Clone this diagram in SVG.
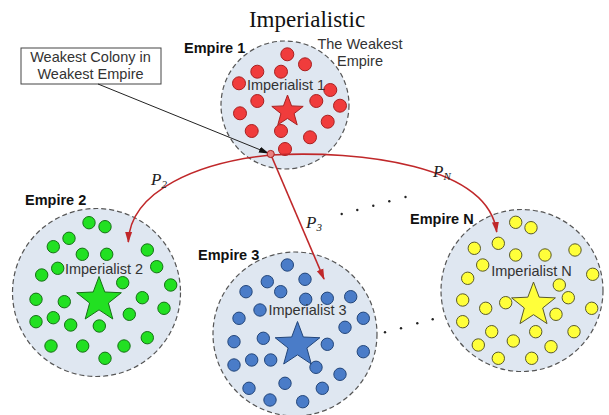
<svg xmlns="http://www.w3.org/2000/svg" width="609" height="415" viewBox="0 0 609 415">
<style>
.emp{fill:#dfe7f1;stroke:#555;stroke-width:1.2;stroke-dasharray:5,3}
.lbl{font-family:"Liberation Sans",Arial,sans-serif;font-size:14.5px;font-weight:bold;fill:#111}
.imp{font-family:"Liberation Sans",Arial,sans-serif;font-size:14.5px;fill:#333}
.txt{font-family:"Liberation Sans",Arial,sans-serif;font-size:14.5px;fill:#333}
.red circle,.red polygon{fill:#f03c3c;stroke:#a82020;stroke-width:1}
.grn circle,.grn polygon{fill:#22e022;stroke:#167016;stroke-width:1}
.blu circle,.blu polygon{fill:#4a7cc8;stroke:#23467a;stroke-width:1}
.yel circle,.yel polygon{fill:#ffff3a;stroke:#5a5a2a;stroke-width:1}
.conn{fill:none;stroke:#c0282a;stroke-width:1.6}
.pl{font-family:"Liberation Serif","Times New Roman",serif;font-style:italic;fill:#222}
.dot{fill:#222}
</style>
<defs>
<marker id="ar" markerWidth="11" markerHeight="10" refX="10" refY="5" orient="auto" markerUnits="userSpaceOnUse">
<path d="M0,1.5 L11,5 L0,8.5 Z" fill="#c0282a"/>
</marker>
<marker id="ab" markerWidth="10" markerHeight="8" refX="9" refY="4" orient="auto" markerUnits="userSpaceOnUse">
<path d="M0,1 L10,4 L0,7 Z" fill="#111"/>
</marker>
</defs>
<rect width="609" height="415" fill="#fff"/>
<text x="307" y="27" text-anchor="middle" style="font-family:'Liberation Serif','Times New Roman',serif;font-size:23px;fill:#111">Imperialistic</text>

<g id="empire1">
<circle class="emp" cx="285" cy="105" r="64"/>
<text class="lbl" x="184" y="52.5">Empire 1</text>
<g class="red">
<circle cx="287.3" cy="54.3" r="6.5"/><circle cx="305" cy="64.3" r="6.5"/><circle cx="257.3" cy="71.7" r="6.5"/><circle cx="281" cy="71.7" r="6.5"/>
<circle cx="239" cy="83.3" r="6.5"/><circle cx="330.3" cy="90" r="6.5"/><circle cx="257.3" cy="101" r="6.5"/><circle cx="316.3" cy="101" r="6.5"/>
<circle cx="340" cy="105.7" r="6.5"/><circle cx="240" cy="113.3" r="6.5"/><circle cx="327.7" cy="121.7" r="6.5"/><circle cx="251.7" cy="131" r="6.5"/>
<circle cx="281" cy="131" r="6.5"/><circle cx="310" cy="137.3" r="6.5"/><circle cx="285" cy="149" r="6.5"/>
<polygon points="287.5,95 291.57,105.89 303.19,106.4 294.09,113.64 297.2,124.85 287.5,118.43 277.8,124.85 280.91,113.64 271.81,106.4 283.43,105.89"/>
</g>
<text class="imp" x="286" y="90" text-anchor="middle">Imperialist 1</text>
</g>

<g id="weakest-label">
<text class="txt" x="360" y="48.5" text-anchor="middle">The Weakest</text>
<text class="txt" x="360" y="66" text-anchor="middle">Empire</text>
</g>

<g id="callout">
<rect x="21" y="48" width="140" height="36" fill="#fff" stroke="#444" stroke-width="1"/>
<text class="txt" x="90.5" y="62" text-anchor="middle">Weakest Colony in</text>
<text class="txt" x="90.5" y="79" text-anchor="middle">Weakest Empire</text>
</g>

<g id="empire2">
<circle class="emp" cx="96.5" cy="292.5" r="84"/>
<text class="lbl" x="25" y="205">Empire 2</text>
<g class="grn">
<circle cx="89" cy="222.7" r="6.2"/><circle cx="105" cy="226.7" r="6.2"/><circle cx="69" cy="238.3" r="6.2"/><circle cx="53.3" cy="246.7" r="6.2"/>
<circle cx="82.3" cy="254.3" r="6.2"/><circle cx="106.7" cy="254.3" r="6.2"/><circle cx="147.3" cy="250" r="6.2"/><circle cx="156.7" cy="266.7" r="6.2"/>
<circle cx="41.7" cy="275" r="6.2"/><circle cx="57.7" cy="268.3" r="6.2"/><circle cx="122.7" cy="282.7" r="6.2"/><circle cx="170.7" cy="285" r="6.2"/>
<circle cx="36" cy="299.3" r="6.2"/><circle cx="64.3" cy="301.7" r="6.2"/><circle cx="142.3" cy="297.7" r="6.2"/><circle cx="164" cy="308.3" r="6.2"/>
<circle cx="36" cy="321.7" r="6.2"/><circle cx="53.3" cy="317.7" r="6.2"/><circle cx="70.7" cy="325" r="6.2"/><circle cx="99.3" cy="326" r="6.2"/>
<circle cx="129.3" cy="314.3" r="6.2"/><circle cx="51" cy="346" r="6.2"/><circle cx="82.7" cy="346" r="6.2"/><circle cx="124" cy="346" r="6.2"/>
<circle cx="147.3" cy="337.7" r="6.2"/><circle cx="105" cy="358.3" r="6.2"/>
<polygon points="99,276.5 104.8,292.01 121.35,292.74 108.39,303.05 112.81,319.01 99,309.87 85.19,319.01 89.61,303.05 76.65,292.74 93.2,292.01"/>
</g>
<text class="imp" x="104" y="273.5" text-anchor="middle">Imperialist 2</text>
</g>

<g id="empire3">
<circle class="emp" cx="295" cy="334" r="82"/>
<text class="lbl" x="198" y="260">Empire 3</text>
<g class="blu">
<circle cx="287.3" cy="265" r="6.2"/><circle cx="305" cy="279.3" r="6.2"/><circle cx="267.3" cy="281.7" r="6.2"/><circle cx="246" cy="291.7" r="6.2"/>
<circle cx="280.7" cy="291.7" r="6.2"/><circle cx="305.7" cy="299.3" r="6.2"/><circle cx="327.3" cy="298.3" r="6.2"/><circle cx="350.7" cy="296.7" r="6.2"/>
<circle cx="260" cy="310" r="6.2"/><circle cx="239" cy="318.3" r="6.2"/><circle cx="363.3" cy="318.3" r="6.2"/><circle cx="345" cy="327.3" r="6.2"/>
<circle cx="234" cy="341.7" r="6.2"/><circle cx="263.3" cy="338.3" r="6.2"/><circle cx="327.3" cy="344.3" r="6.2"/><circle cx="363.3" cy="351.7" r="6.2"/>
<circle cx="234" cy="365" r="6.2"/><circle cx="251.7" cy="360" r="6.2"/><circle cx="270.7" cy="360" r="6.2"/><circle cx="316" cy="367.3" r="6.2"/>
<circle cx="340" cy="374.3" r="6.2"/><circle cx="249" cy="388.3" r="6.2"/><circle cx="285" cy="383.3" r="6.2"/><circle cx="322.3" cy="388.3" r="6.2"/>
<circle cx="270" cy="400" r="6.2"/><circle cx="302.7" cy="401.7" r="6.2"/>
<polygon points="297.5,321.5 303.3,337.01 319.85,337.74 306.89,348.05 311.31,364.01 297.5,354.87 283.69,364.01 288.11,348.05 275.15,337.74 291.7,337.01"/>
</g>
<text class="imp" x="307.5" y="315" text-anchor="middle">Imperialist 3</text>
</g>

<g id="empireN">
<circle class="emp" cx="522" cy="290.5" r="81"/>
<text class="lbl" x="410" y="223.5">Empire N</text>
<g class="yel">
<circle cx="515.7" cy="222.3" r="6.2"/><circle cx="531" cy="227.7" r="6.2"/><circle cx="498.3" cy="243.3" r="6.2"/><circle cx="474.3" cy="248.3" r="6.2"/>
<circle cx="515.7" cy="255" r="6.2"/><circle cx="545" cy="255" r="6.2"/><circle cx="575" cy="250" r="6.2"/><circle cx="482.7" cy="265" r="6.2"/>
<circle cx="467.7" cy="278.3" r="6.2"/><circle cx="592.7" cy="274.3" r="6.2"/><circle cx="559.3" cy="285" r="6.2"/><circle cx="568.3" cy="297.7" r="6.2"/>
<circle cx="462.7" cy="300" r="6.2"/><circle cx="485.7" cy="308.3" r="6.2"/><circle cx="505.7" cy="302.7" r="6.2"/><circle cx="556" cy="314.3" r="6.2"/>
<circle cx="591.7" cy="308.3" r="6.2"/><circle cx="462.7" cy="321.7" r="6.2"/><circle cx="491.7" cy="331.7" r="6.2"/><circle cx="535.7" cy="331.7" r="6.2"/>
<circle cx="574" cy="331.7" r="6.2"/><circle cx="478.3" cy="345" r="6.2"/><circle cx="513.3" cy="341" r="6.2"/><circle cx="551" cy="346.7" r="6.2"/>
<circle cx="498.3" cy="358.3" r="6.2"/><circle cx="531.7" cy="358.3" r="6.2"/>
<polygon points="533.5,282 539.18,297.18 555.38,297.89 542.69,307.99 547.02,323.61 533.5,314.66 519.98,323.61 524.31,307.99 511.62,297.89 527.82,297.18"/>
</g>
<text class="imp" x="531.5" y="276" text-anchor="middle">Imperialist N</text>
</g>

<g id="connectors">
<path d="M98,84 L268,153" fill="none" stroke="#222" stroke-width="1" marker-end="url(#ab)"/>
<path class="conn" d="M271,155 C200,162 130,190 128.3,242" marker-end="url(#ar)"/>
<path class="conn" d="M271,155 L324,279" marker-end="url(#ar)"/>
<path class="conn" d="M271,155 C360,150 488,165 496.7,232" marker-end="url(#ar)"/>
<circle cx="270.7" cy="154" r="3.6" fill="#e88080" stroke="#a82020" stroke-width="1"/>
</g>

<g id="edge-labels">
<text class="pl" x="151" y="185" font-size="17">P<tspan font-size="11" dy="3">2</tspan></text>
<text class="pl" x="306" y="228" font-size="17">P<tspan font-size="11" dy="3">3</tspan></text>
<text class="pl" x="433" y="177" font-size="17">P<tspan font-size="11" dy="3">N</tspan></text>
</g>

<g id="ellipsis">
<circle class="dot" cx="341.7" cy="214" r="1.2"/><circle class="dot" cx="357.3" cy="210" r="1.2"/><circle class="dot" cx="373.3" cy="205.7" r="1.2"/><circle class="dot" cx="389.3" cy="201.3" r="1.2"/><circle class="dot" cx="405.5" cy="197" r="1.2"/>
<circle class="dot" cx="385" cy="332.3" r="1.2"/><circle class="dot" cx="401" cy="328.3" r="1.2"/><circle class="dot" cx="417.3" cy="323.3" r="1.2"/><circle class="dot" cx="432.7" cy="319.3" r="1.2"/>
</g>
</svg>
